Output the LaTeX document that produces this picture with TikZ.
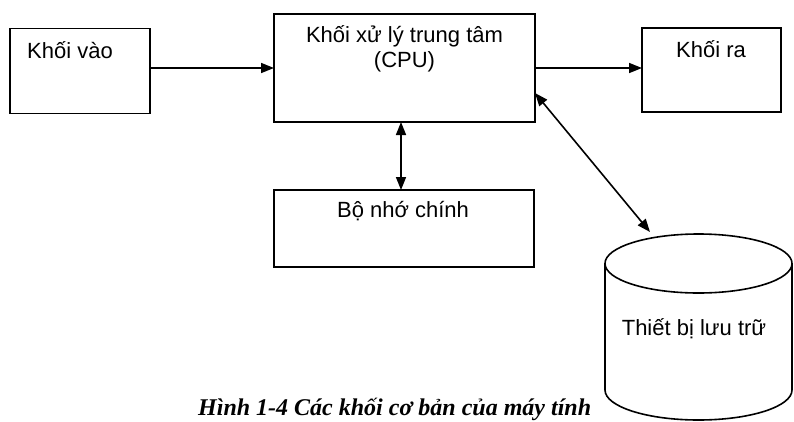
\documentclass[tikz,border=0pt]{standalone}
\usepackage{fontspec}
\setmainfont{Liberation Sans}
\newfontfamily\capfont{Liberation Serif}
\usetikzlibrary{arrows.meta}
\begin{document}
\begin{tikzpicture}[x=1pt,y=-1pt,
  blk/.style={draw, line width=1.6pt, inner sep=0pt, outer sep=0pt},
  lbl/.style={inner sep=0pt, font=\fontsize{22}{25}\selectfont},
  conn/.style={line width=1.6pt, -{Triangle[length=13pt,width=10pt]}},
  dconn/.style={line width=1.6pt, {Triangle[length=13pt,width=10pt]}-{Triangle[length=13pt,width=10pt]}},
  cyl/.style={line width=1.6pt}]
\path[fill=white,use as bounding box] (0,0) rectangle (794,421);
% boxes
\node[blk, minimum width=140pt, minimum height=85pt] (in) at (80,71) {};
\node[blk, minimum width=261pt, minimum height=108pt] (cpu) at (404.5,68) {};
\node[blk, minimum width=139pt, minimum height=84pt] (out) at (711.5,70) {};
\node[blk, minimum width=260pt, minimum height=77pt] (mem) at (404,228.5) {};
% labels
\node[lbl, anchor=base west] (inT) at (27,58) {Khối vào};
\node[lbl, anchor=base] (cpuA) at (404.5,42) {Khối xử lý trung tâm};
\node[lbl, anchor=base] (cpuB) at (404.5,67) {(CPU)};
\node[lbl, anchor=base] (outT) at (711,57) {Khối ra};
\node[lbl, anchor=base] (memT) at (403,217) {Bộ nhớ chính};
% storage cylinder
\draw[cyl] (698.5,263.5) ellipse [x radius=93.5pt, y radius=29.5pt];
\draw[cyl] (605,263.5) -- (605,390)
  .. controls (605,406.6) and (646.9,420) .. (698.5,420)
  .. controls (750.1,420) and (792,406.6) .. (792,390) -- (792,263.5);
\node[lbl, anchor=base] (disk) at (694,335) {Thiết bị lưu trữ};
\coordinate (diskin) at (650,232);
% connectors
\draw[conn] (in.east |- cpu.west) -- (cpu.west);
\draw[conn] (cpu.east) -- (out.west |- cpu.east);
\draw[dconn] ([xshift=-3.5pt]cpu.south) -- ([xshift=-3.5pt]cpu.south |- mem.north);
\draw[dconn] ([yshift=-25pt]cpu.east) -- (diskin);
% caption
\node[inner sep=0pt, anchor=base west, font=\capfont\bfseries\itshape\fontsize{24}{28}\selectfont] (cap) at (198,415) {Hình 1-4 Các khối cơ bản của máy tính};
\end{tikzpicture}
\end{document}
